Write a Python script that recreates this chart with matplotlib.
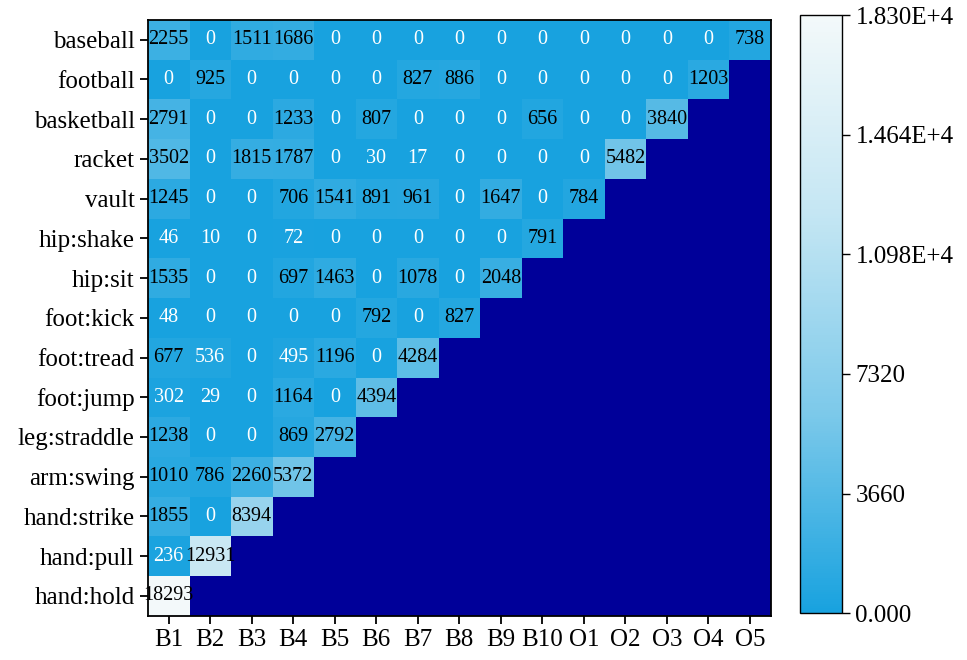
import numpy as np
import matplotlib
matplotlib.use("Agg")
import matplotlib.pyplot as plt
from matplotlib.colors import LinearSegmentedColormap

plt.rcParams['font.family'] = ['Liberation Serif', 'DejaVu Serif']

actions = ['baseball', 'football', 'basketball', 'racket', 'vault', 'hip:shake',
           'hip:sit', 'foot:kick', 'foot:tread', 'foot:jump', 'leg:straddle',
           'arm:swing', 'hand:strike', 'hand:pull', 'hand:hold']
parts = ['B1', 'B2', 'B3', 'B4', 'B5', 'B6', 'B7', 'B8', 'B9', 'B10',
         'O1', 'O2', 'O3', 'O4', 'O5']

baseball = [2255, 0, 1511, 1686, 0, 0, 0, 0, 0, 0, 0, 0, 0, 0, 738]
football = [0, 925, 0, 0, 0, 0, 827, 886, 0, 0, 0, 0, 0, 1203]
basketball = [2791, 0, 0, 1233, 0, 807, 0, 0, 0, 656, 0, 0, 3840]
racket = [3502, 0, 1815, 1787, 0, 30, 17, 0, 0, 0, 0, 5482]
vault = [1245, 0, 0, 706, 1541, 891, 961, 0, 1647, 0, 784]
hip_shake = [46, 10, 0, 72, 0, 0, 0, 0, 0, 791]
hip_sit = [1535, 0, 0, 697, 1463, 0, 1078, 0, 2048]
foot_kick = [48, 0, 0, 0, 0, 792, 0, 827]
foot_tread = [677, 536, 0, 495, 1196, 0, 4284]
foot_jump = [302, 29, 0, 1164, 0, 4394]
leg_straddle = [1238, 0, 0, 869, 2792]
arm_swing = [1010, 786, 2260, 5372]
hand_strike = [1855, 0, 8394]
hand_pull = [236, 12931]
hand_hold = [18293]

rows = [baseball, football, basketball, racket, vault, hip_shake, hip_sit,
        foot_kick, foot_tread, foot_jump, leg_straddle, arm_swing,
        hand_strike, hand_pull, hand_hold]

vmax = 18300
cbar_ticks = [0, 3660, 7320, 10980, 14640, 18300]
cbar_labels = ['0.000', '3660', '7320', '1.098E+4', '1.464E+4', '1.830E+4']

n = len(parts)
grid = np.full((len(rows), n), np.nan)
for i, r in enumerate(rows):
    grid[i, :len(r)] = r
data = np.ma.masked_invalid(grid)

cmap = LinearSegmentedColormap.from_list(
    'blues', ['#18a2df', '#7cc9ea', '#c4e6f3', '#f3f9fa'])
cmap.set_bad('#000099')

fig = plt.figure(figsize=(9.67, 6.6), dpi=100)
ax = fig.add_axes([0.153, 0.067, 0.644, 0.903])
im = ax.imshow(data, cmap=cmap, vmin=0, vmax=vmax, aspect='auto',
               interpolation='nearest')

for i, r in enumerate(rows):
    for j, v in enumerate(r):
        color = 'white' if v < 600 else 'black'
        ax.text(j, i, str(v), ha='center', va='center', fontsize=14.5,
                color=color)

ax.set_xticks(range(n))
ax.set_xticklabels(parts, fontsize=18)
ax.set_yticks(range(len(actions)))
ax.set_yticklabels(actions, fontsize=18)
ax.tick_params(direction='out', length=6, width=1.3, color='black')
for s in ax.spines.values():
    s.set_linewidth(1.3)

cax = fig.add_axes([0.827, 0.071, 0.044, 0.906])
cb = fig.colorbar(im, cax=cax, ticks=cbar_ticks)
cb.ax.set_yticklabels(cbar_labels, fontsize=18)
cb.ax.tick_params(direction='out', length=6, width=1)
cb.outline.set_linewidth(1)

fig.savefig('out.png', dpi=100)
